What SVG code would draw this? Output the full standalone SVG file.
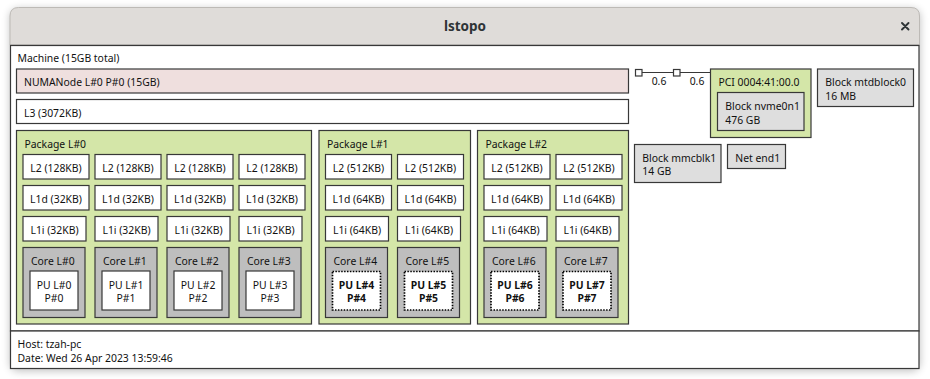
<svg xmlns="http://www.w3.org/2000/svg" width="930" height="379" viewBox="0 0 930 379">
<defs>
<filter id="sh" x="-5%" y="-10%" width="110%" height="120%">
<feGaussianBlur stdDeviation="4"/>
</filter>
</defs>
<style>
text{font-family:"Noto Sans","DejaVu Sans",sans-serif;font-size:10.4px;fill:#111}
.c{text-anchor:middle}
.bx{stroke:#383838;stroke-width:1.2}
.w{fill:#fff}
.numa{fill:#efdfde}
.pkg{fill:#d4e6a8}
.core{fill:#bebebe}
.os{fill:#dedede}
.pud{fill:#fff;stroke:#000;stroke-width:1.7;stroke-dasharray:1.5 1.4}
.bd{font-weight:bold}
.title{font-family:"Noto Sans","DejaVu Sans",sans-serif;font-size:13.5px;font-weight:bold;fill:#2e3436;text-anchor:middle}
.ln{stroke:#383838;stroke-width:1.2;fill:none}
</style>
<rect width="930" height="379" fill="#ffffff"/>
<rect x="10" y="9" width="910" height="362" rx="8" fill="#000" opacity="0.25" filter="url(#sh)"/>
<g id="window">
<path d="M10 45 V16 Q10 7.5 18.5 7.5 H911 Q919.5 7.5 919.5 16 V45 Z" fill="#dfdcd9" stroke="#bdbab6" stroke-width="1"/>
<line x1="10" y1="45" x2="919.5" y2="45" stroke="#b5b2ae" stroke-width="1"/>
<text class="title" x="465" y="31">lstopo</text>
<path d="M902 23 L908.5 29.5 M908.5 23 L902 29.5" stroke="#2e3436" stroke-width="1.9" stroke-linecap="round"/>
<rect x="10.5" y="45.5" width="908.5" height="323" fill="#fff"/>
</g>
<g id="machine">
<rect class="bx w" x="10.5" y="45.5" width="908.5" height="285.5"/>
<text x="17.5" y="62.3">Machine (15GB total)</text>
</g>
<g id="numa">
<rect class="bx numa" x="16.5" y="69" width="612" height="24"/>
<text x="24" y="86">NUMANode L#0 P#0 (15GB)</text>
</g>
<g id="l3">
<rect class="bx w" x="16.5" y="99.5" width="612" height="24"/>
<text x="24" y="116.7">L3 (3072KB)</text>
</g>
<g id="package0">
<rect class="bx pkg" x="16.5" y="130.5" width="295" height="193.5"/>
<text x="24.5" y="147.7">Package L#0</text>
</g>
<g id="p0c0">
<rect class="bx w" x="23" y="154.5" width="66" height="24.5"/><text class="c" x="56" y="171.7">L2 (128KB)</text>
<rect class="bx w" x="23" y="185.5" width="66" height="24.5"/><text class="c" x="56" y="202.9">L1d (32KB)</text>
<rect class="bx w" x="23" y="216.5" width="63" height="24.5"/><text class="c" x="54.5" y="233.9">L1i (32KB)</text>
<rect class="bx core" x="23" y="247.5" width="62" height="70"/><text x="31" y="264.5">Core L#0</text>
<rect class="bx w" x="30" y="271" width="48" height="39"/><text class="c" x="54" y="288.7">PU L#0</text><text class="c" x="54" y="302.2">P#0</text>
</g>
<g id="p0c1">
<rect class="bx w" x="95" y="154.5" width="66" height="24.5"/><text class="c" x="128" y="171.7">L2 (128KB)</text>
<rect class="bx w" x="95" y="185.5" width="66" height="24.5"/><text class="c" x="128" y="202.9">L1d (32KB)</text>
<rect class="bx w" x="95" y="216.5" width="63" height="24.5"/><text class="c" x="126.5" y="233.9">L1i (32KB)</text>
<rect class="bx core" x="95" y="247.5" width="62" height="70"/><text x="103" y="264.5">Core L#1</text>
<rect class="bx w" x="102" y="271" width="48" height="39"/><text class="c" x="126" y="288.7">PU L#1</text><text class="c" x="126" y="302.2">P#1</text>
</g>
<g id="p0c2">
<rect class="bx w" x="167" y="154.5" width="66" height="24.5"/><text class="c" x="200" y="171.7">L2 (128KB)</text>
<rect class="bx w" x="167" y="185.5" width="66" height="24.5"/><text class="c" x="200" y="202.9">L1d (32KB)</text>
<rect class="bx w" x="167" y="216.5" width="63" height="24.5"/><text class="c" x="198.5" y="233.9">L1i (32KB)</text>
<rect class="bx core" x="167" y="247.5" width="62" height="70"/><text x="175" y="264.5">Core L#2</text>
<rect class="bx w" x="174" y="271" width="48" height="39"/><text class="c" x="198" y="288.7">PU L#2</text><text class="c" x="198" y="302.2">P#2</text>
</g>
<g id="p0c3">
<rect class="bx w" x="239" y="154.5" width="66" height="24.5"/><text class="c" x="272" y="171.7">L2 (128KB)</text>
<rect class="bx w" x="239" y="185.5" width="66" height="24.5"/><text class="c" x="272" y="202.9">L1d (32KB)</text>
<rect class="bx w" x="239" y="216.5" width="63" height="24.5"/><text class="c" x="270.5" y="233.9">L1i (32KB)</text>
<rect class="bx core" x="239" y="247.5" width="62" height="70"/><text x="247" y="264.5">Core L#3</text>
<rect class="bx w" x="246" y="271" width="48" height="39"/><text class="c" x="270" y="288.7">PU L#3</text><text class="c" x="270" y="302.2">P#3</text>
</g>
<g id="package1">
<rect class="bx pkg" x="319" y="130.5" width="151.5" height="193.5"/>
<text x="327" y="147.7">Package L#1</text>
</g>
<g id="p1c0">
<rect class="bx w" x="325.5" y="154.5" width="66" height="24.5"/><text class="c" x="358.5" y="171.7">L2 (512KB)</text>
<rect class="bx w" x="325.5" y="185.5" width="66" height="24.5"/><text class="c" x="358.5" y="202.9">L1d (64KB)</text>
<rect class="bx w" x="325.5" y="216.5" width="63" height="24.5"/><text class="c" x="357" y="233.9">L1i (64KB)</text>
<rect class="bx core" x="325.5" y="247.5" width="62" height="70"/><text x="333.5" y="264.5">Core L#4</text>
<rect class="pud" x="332.5" y="271.5" width="48" height="38.5"/><text class="c bd" x="356.5" y="288.7">PU L#4</text><text class="c bd" x="356.5" y="302.2">P#4</text>
</g>
<g id="p1c1">
<rect class="bx w" x="397.5" y="154.5" width="66" height="24.5"/><text class="c" x="430.5" y="171.7">L2 (512KB)</text>
<rect class="bx w" x="397.5" y="185.5" width="66" height="24.5"/><text class="c" x="430.5" y="202.9">L1d (64KB)</text>
<rect class="bx w" x="397.5" y="216.5" width="63" height="24.5"/><text class="c" x="429" y="233.9">L1i (64KB)</text>
<rect class="bx core" x="397.5" y="247.5" width="62" height="70"/><text x="405.5" y="264.5">Core L#5</text>
<rect class="pud" x="404.5" y="271.5" width="48" height="38.5"/><text class="c bd" x="428.5" y="288.7">PU L#5</text><text class="c bd" x="428.5" y="302.2">P#5</text>
</g>
<g id="package2">
<rect class="bx pkg" x="477.5" y="130.5" width="151" height="193.5"/>
<text x="485.5" y="147.7">Package L#2</text>
</g>
<g id="p2c0">
<rect class="bx w" x="484" y="154.5" width="66" height="24.5"/><text class="c" x="517" y="171.7">L2 (512KB)</text>
<rect class="bx w" x="484" y="185.5" width="66" height="24.5"/><text class="c" x="517" y="202.9">L1d (64KB)</text>
<rect class="bx w" x="484" y="216.5" width="63" height="24.5"/><text class="c" x="515.5" y="233.9">L1i (64KB)</text>
<rect class="bx core" x="484" y="247.5" width="62" height="70"/><text x="492" y="264.5">Core L#6</text>
<rect class="pud" x="491" y="271.5" width="48" height="38.5"/><text class="c bd" x="515" y="288.7">PU L#6</text><text class="c bd" x="515" y="302.2">P#6</text>
</g>
<g id="p2c1">
<rect class="bx w" x="556" y="154.5" width="66" height="24.5"/><text class="c" x="589" y="171.7">L2 (512KB)</text>
<rect class="bx w" x="556" y="185.5" width="66" height="24.5"/><text class="c" x="589" y="202.9">L1d (64KB)</text>
<rect class="bx w" x="556" y="216.5" width="63" height="24.5"/><text class="c" x="587.5" y="233.9">L1i (64KB)</text>
<rect class="bx core" x="556" y="247.5" width="62" height="70"/><text x="564" y="264.5">Core L#7</text>
<rect class="pud" x="563" y="271.5" width="48" height="38.5"/><text class="c bd" x="587" y="288.7">PU L#7</text><text class="c bd" x="587" y="302.2">P#7</text>
</g>
<g id="connectors">
<path class="ln" d="M642 72.5 H673.5 M680 72.5 H710.5"/>
<text class="c" x="659" y="84.7">0.6</text>
<text class="c" x="697" y="84.7">0.6</text>
</g>
<g id="hostbridge">
<rect class="bx w" x="635.5" y="69.5" width="6.5" height="6.5"/>
</g>
<g id="pcibridge">
<rect class="bx w" x="673.5" y="69.5" width="6.5" height="6.5"/>
</g>
<g id="pci">
<rect class="bx pkg" x="710.5" y="69" width="100.5" height="68.5"/>
<text x="718.5" y="86">PCI 0004:41:00.0</text>
</g>
<g id="nvme0n1">
<rect class="bx os" x="717.5" y="92.5" width="86.5" height="38"/>
<text x="725.3" y="110">Block nvme0n1</text>
<text x="725.3" y="123.5">476 GB</text>
</g>
<g id="mtdblock0">
<rect class="bx os" x="817.5" y="69" width="96" height="37.5"/>
<text x="825.3" y="86">Block mtdblock0</text>
<text x="825.3" y="99.5">16 MB</text>
</g>
<g id="mmcblk1">
<rect class="bx os" x="634.5" y="144.5" width="86.5" height="38"/>
<text x="642.3" y="161.6">Block mmcblk1</text>
<text x="642.3" y="175.3">14 GB</text>
</g>
<g id="netend1">
<rect class="bx os" x="727.5" y="144.5" width="58" height="24"/>
<text x="735.3" y="161.6">Net end1</text>
</g>
<g id="legend">
<rect class="bx w" x="10.5" y="331" width="908.5" height="37.5"/>
<text x="17.5" y="347.5">Host: tzah-pc</text>
<text x="17.5" y="362.3">Date: Wed 26 Apr 2023 13:59:46</text>
</g>
</svg>
